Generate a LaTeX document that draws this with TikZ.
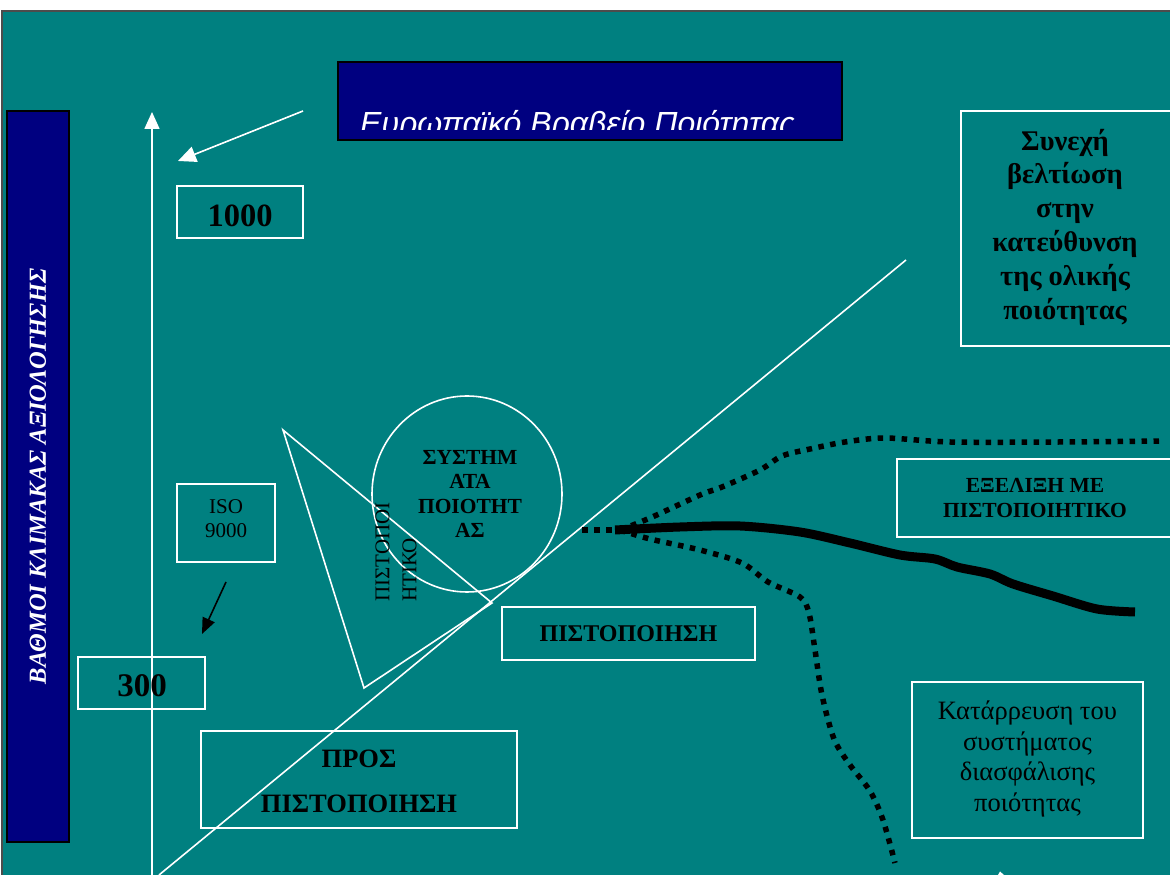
\documentclass[tikz,border=0pt]{standalone}
\usepackage{fontspec}
\setmainfont{Liberation Serif}
\newfontfamily\headfont{Liberation Sans}
\usetikzlibrary{arrows.meta,shapes.geometric}
\definecolor{tealbg}{RGB}{0,128,128}
\definecolor{navybox}{RGB}{0,0,128}
\tikzset{
  wline/.style={draw=white, line width=1.6},
  wbox/.style={draw=white, line width=1.8, inner sep=0, align=center, text=black},
  dotline/.style={draw=black, line width=5.5, dash pattern=on 5.5 off 6.5, line cap=butt},
  thickline/.style={draw=black, line width=9, line cap=butt, line join=round},
}
\begin{document}
\begin{tikzpicture}[x=1pt, y=1pt]
\useasboundingbox (0,0) rectangle (1170,875);
% background
\fill[white] (0,0) rectangle (1170,875);
\fill[tealbg] (2,0) rectangle (1170,864);
\draw[black!70, line width=1.5] (2,0) -- (2,864) -- (1170,864);

% left vertical title bar
\node[rotate=90, fill=navybox, draw=black, line width=1.2, minimum width=731, minimum height=62,
      inner sep=0, text=white, font=\fontsize{24.5}{28}\selectfont\bfseries\itshape]
  (scale) at (38,398.5) {ΒΑΘΜΟΙ ΚΛΙΜΑΚΑΣ ΑΞΙΟΛΟΓΗΣΗΣ};

% header box with clipped title
\node[fill=navybox, draw=black, line width=1.5, minimum width=504, minimum height=78, inner sep=0]
  (award) at (590,774) {};
\begin{scope}
  \clip (338,745) rectangle (842,813);
  \node[anchor=base west, inner sep=0, text=white, font=\headfont\itshape\fontsize{32}{36}\selectfont]
    (awardtxt) at (360,740) {Ευρωπαϊκό Βραβείο Ποιότητας};
\end{scope}

% vertical axis
\coordinate (axisbot) at (152,0);
\coordinate (axistop) at (152,763);
\draw[wline, -{Triangle[length=17, width=15]}] (axisbot) -- (axistop);

% arrow from the award to the top of the scale
\coordinate (awA) at (303,764);
\coordinate (awB) at (178,714);
\draw[wline, -{Triangle[length=18, width=16]}] (awA) -- (awB);

% score boxes
\node[wbox, minimum width=126, minimum height=52] (k1000) at (240,663) {};
\node[inner sep=0, font=\bfseries\fontsize{32.5}{36}\selectfont] (k1000txt) at (240,659) {1000};
\node[wbox, minimum width=127, minimum height=52] (k300) at (141.5,192) {};
\node[inner sep=0, font=\bfseries\fontsize{33}{36}\selectfont] (k300txt) at (142,189) {300};
\node[wbox, minimum width=98, minimum height=78] (iso) at (226,352) {};
\node[align=center, inner sep=0, font=\fontsize{21}{24}\selectfont] (isotxt) at (226,356) {ISO\\9000};

% black arrow from ISO 9000 towards 300
\coordinate (isoA) at (226,293);
\coordinate (isoB) at (202,241);
\draw[black, line width=1.6, -{Triangle[length=16, width=13]}] (isoA) -- (isoB);

% diagonal growth line
\coordinate (diagA) at (159,0);
\coordinate (diagB) at (906,615);
\draw[wline] (diagA) -- (diagB);

% triangle and circle
\draw[wline, line join=miter] (283,445) -- (364,187) -- (492,272) -- cycle;
\node[ellipse, draw=white, line width=1.6, minimum width=190, minimum height=196, inner sep=0]
  (sys) at (467,381) {};
\node[align=center, inner sep=0, font=\bfseries\fontsize{21.5}{24.5}\selectfont]
  (systxt) at (470,381) {ΣΥΣΤΗΜ\\ΑΤΑ\\ΠΟΙΟΤΗΤ\\ΑΣ};
\node[rotate=90, anchor=west, align=left, inner sep=0, font=\fontsize{21}{27}\selectfont]
  (certif) at (396,273) {ΠΙΣΤΟΠΟΙ\\ΗΤΙΚΟ};

% text boxes
\node[wbox, minimum width=316, minimum height=97] (pros) at (359,95.5) {};
\node[align=center, inner sep=0, font=\bfseries\fontsize{26.5}{45}\selectfont]
  (prostxt) at (359,94) {ΠΡΟΣ\\ΠΙΣΤΟΠΟΙΗΣΗ};
\node[wbox, minimum width=253, minimum height=53, font=\bfseries\fontsize{24}{26}\selectfont]
  (cert) at (628.5,241.5) {ΠΙΣΤΟΠΟΙΗΣΗ};
\node[wbox, minimum width=276, minimum height=78, font=\bfseries\fontsize{21.5}{25}\selectfont]
  (evol) at (1035,377) {ΕΞΕΛΙΞΗ ΜΕ\\ΠΙΣΤΟΠΟΙΗΤΙΚΟ};
\node[wbox, minimum width=212, minimum height=235] (tqm) at (1067,646.5) {};
\node[align=center, inner sep=0, font=\bfseries\fontsize{28.5}{33.8}\selectfont]
  (tqmtxt) at (1065,648) {Συνεχή\\βελτίωση\\στην\\κατεύθυνση\\της ολικής\\ποιότητας};
\node[wbox, minimum width=231, minimum height=156] (collapse) at (1027.5,115) {};
\node[align=center, inner sep=0, font=\fontsize{26.5}{30.7}\selectfont]
  (collapsetxt) at (1027.5,116) {Κατάρρευση του\\συστήματος\\διασφάλισης\\ποιότητας};

% evolution paths
\coordinate (fork) at (620,345);
\draw[dotline] (582,345) -- (fork);
\draw[dotline] plot[smooth, tension=0.5] coordinates {(fork) (650,357) (700,380) (722,388) (760,405) (782,419) (810,426) (845,433) (885,437) (950,433) (1060,433) (1165,434)};
\draw[thickline] plot[smooth, tension=0.5] coordinates {(615,345) (680,348) (740,349) (800,343) (850,332) (900,320) (935,316) (957,308) (990,301) (1013,291) (1053,279) (1097,266) (1135,263)};
\draw[dotline] plot[smooth, tension=0.5] coordinates {(fork) (650,336) (700,325) (742,312) (768,293) (800,278) (809,262) (815,225) (822,180) (834,136) (850,110) (870,84) (883,55) (895,12)};

% arrow tip entering at the lower edge
\fill[white] (998,0) -- (1000,3.5) -- (1004,0) -- cycle;
\end{tikzpicture}
\end{document}
